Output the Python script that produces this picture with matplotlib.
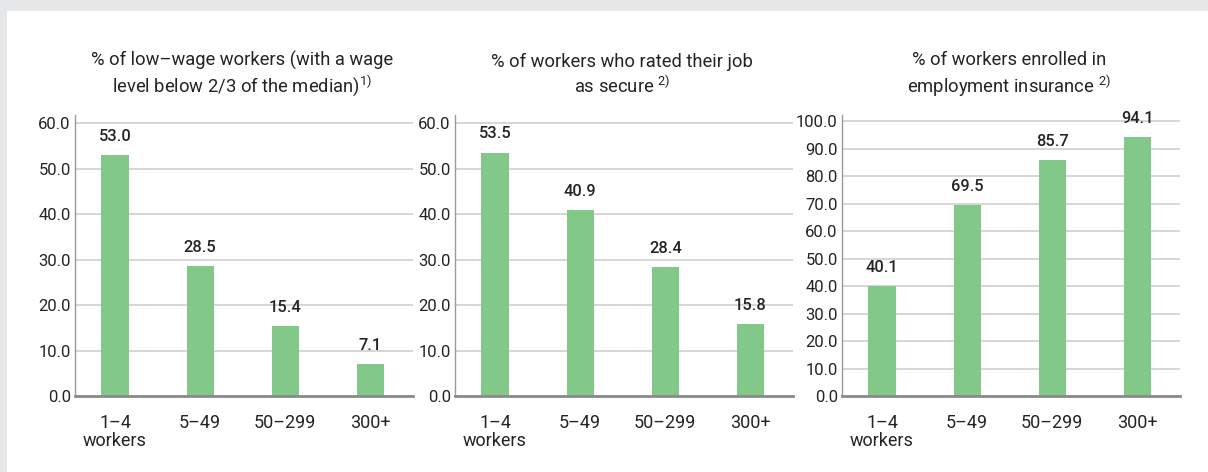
import matplotlib
matplotlib.use("Agg")
import matplotlib.pyplot as plt
from matplotlib.patches import Rectangle

plt.rcParams['font.family'] = ['Roboto', 'DejaVu Sans']
title_font = 'Roboto'
plt.rcParams['mathtext.fontset'] = 'custom'
plt.rcParams['mathtext.rm'] = title_font

categories = ["1–4\nworkers", "5–49", "50–299", "300+"]
low_wage = [53.0, 28.5, 15.4, 7.1]
job_secure = [53.5, 40.9, 28.4, 15.8]
insurance = [40.1, 69.5, 85.7, 94.1]

titles = [
    "% of low–wage workers (with a wage\nlevel below 2/3 of the median)$^{\\mathrm{1)}}$",
    "% of workers who rated their job\nas secure $^{\\mathrm{2)}}$",
    "% of workers enrolled in\nemployment insurance $^{\\mathrm{2)}}$",
]
series = [low_wage, job_secure, insurance]
yticks_list = [[0, 10, 20, 30, 40, 50, 60], [0, 10, 20, 30, 40, 50, 60],
               [0, 10, 20, 30, 40, 50, 60, 70, 80, 90, 100]]
ylims = [61.76, 61.76, 102.2]

W, H = 1208, 472
fig = plt.figure(figsize=(W / 100, H / 100), dpi=100)
fig.patch.set_facecolor("white")
fig.patches.append(Rectangle((0, 1 - 11 / H), 1, 11 / H, transform=fig.transFigure,
                             facecolor="#e6e7e9", edgecolor="none", zorder=0))
fig.patches.append(Rectangle((0, 0), 7 / W, 1, transform=fig.transFigure,
                             facecolor="#e6e7e9", edgecolor="none", zorder=0))

lefts = [75, 455, 842]
txt = "#242424"
bar_color = "#81c889"
for i in range(3):
    ax = fig.add_axes([lefts[i] / W, (H - 396) / H, 338 / W, 281 / H])
    x = list(range(len(categories)))
    ax.bar(x, series[i], width=0.32, color=bar_color, zorder=2)
    ax.set_xlim(-0.47, 3.5)
    ax.set_ylim(0, ylims[i])
    ax.set_yticks(yticks_list[i])
    ax.set_yticklabels([f"{v:.1f}" for v in yticks_list[i]])
    ax.set_xticks(x)
    ax.set_xticklabels(categories, linespacing=1.0)
    ax.tick_params(axis="y", length=0, pad=3, labelsize=12, labelcolor=txt)
    ax.tick_params(axis="x", length=0, pad=13, labelsize=13, labelcolor=txt)
    ax.grid(axis="y", color="#cfcfcf", linewidth=1.2, zorder=0)
    ax.set_axisbelow(True)
    for s in ["top", "right"]:
        ax.spines[s].set_visible(False)
    ax.spines["left"].set_color("#9a9a9a")
    ax.spines["left"].set_linewidth(1.0)
    ax.spines["bottom"].set_color("#8a8a8a")
    ax.spines["bottom"].set_linewidth(2.0)
    for xi, v in zip(x, series[i]):
        ax.annotate(f"{v:.1f}", (xi, v), xytext=(0, 8), textcoords="offset points",
                    ha="center", va="bottom", fontsize=11.8, fontweight="medium", color=txt)
    cx = (lefts[i] + 167) / W
    fig.text(cx, 1 - 75 / H, titles[i], ha="center", va="center", fontsize=13.2,
             family=[title_font, 'DejaVu Sans'], color=txt, linespacing=1.24)

fig.savefig("out.png", dpi=100, facecolor=fig.get_facecolor())
